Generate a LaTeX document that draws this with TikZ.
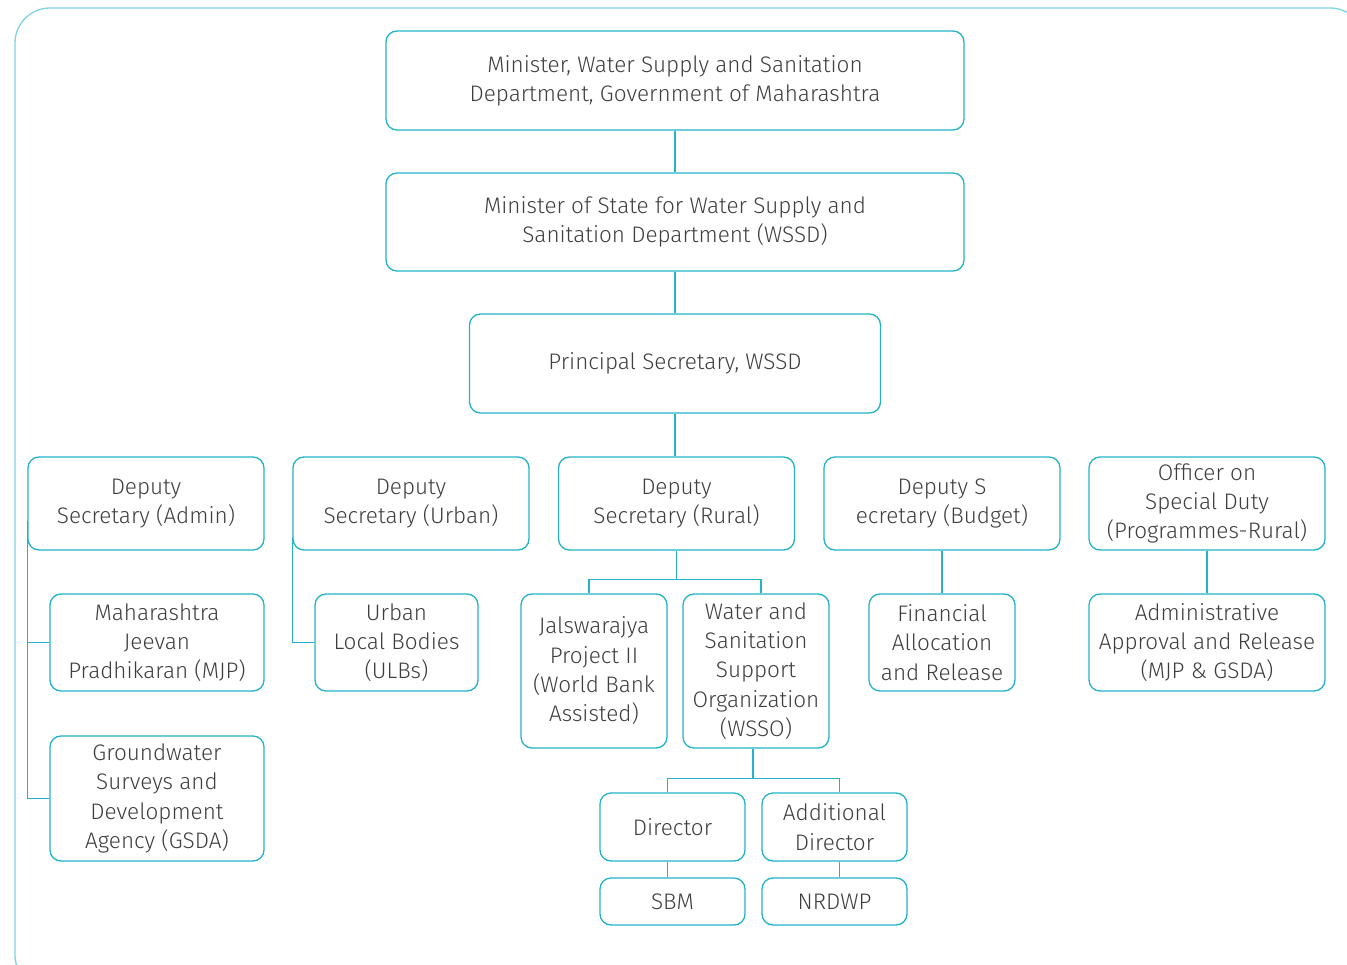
\documentclass[tikz,border=0pt]{standalone}
\usepackage{fontspec}
\setmainfont{Fira Sans Light}
\usepackage{xcolor}
\usetikzlibrary{calc}
\definecolor{boxline}{HTML}{22B2C9}
\definecolor{frameline}{HTML}{7DD3E3}
\definecolor{txtgray}{HTML}{3E3E3E}

\begin{document}
\begin{tikzpicture}[x=1pt,y=-1pt,
    box/.style={draw=boxline,line width=1.3pt,rounded corners=11pt,
      align=center,text=txtgray,inner sep=0pt,
      font=\fontsize{22.5}{29.3}\selectfont},
    link/.style={draw=boxline,line width=1.3pt}]

    \useasboundingbox (0,0) rectangle (1347,965);

    % outer frame
    \begin{scope}
      \clip (0,0) rectangle (1347,965);
      \draw[frameline,line width=1.3pt,rounded corners=35pt]
      (15,8) rectangle (1365,990);
    \end{scope}

    % top levels
    \node[box,minimum width=578pt,minimum height=99pt] (min) at (675,80.5)
    {Minister, Water Supply and Sanitation\\Department, Government of Maharashtra};
    \node[box,minimum width=578pt,minimum height=98pt] (mos) at (675,222)
    {Minister of State for Water Supply and\\Sanitation Department (WSSD)};
    \node[box,minimum width=411pt,minimum height=99pt] (psec) at (675,363.5)
    {Principal Secretary, WSSD};

    % deputy secretaries
    \def\rowy{503.5}
    \node[box,minimum width=236pt,minimum height=93pt] (admin) at (146,\rowy)
    {Deputy\\Secretary (Admin)};
    \node[box,minimum width=236pt,minimum height=93pt] (urban) at (411,\rowy)
    {Deputy\\Secretary (Urban)};
    \node[box,minimum width=236pt,minimum height=93pt] (rural) at (676.5,\rowy)
    {Deputy\\Secretary (Rural)};
    \node[box,minimum width=236pt,minimum height=93pt] (budget) at (942,\rowy)
    {Deputy S\\ecretary (Budget)};
    \node[box,minimum width=236pt,minimum height=93pt] (osd) at (1207,\rowy)
    {Officer on\\Special Duty\\(Programmes-Rural)};

    % third level
    \node[box,minimum width=214pt,minimum height=97pt] (mjp) at (157,642.5)
    {Maharashtra\\Jeevan\\Pradhikaran (MJP)};
    \node[box,minimum width=214pt,minimum height=125pt] (gsda) at (157,798.5)
    {Groundwater\\Surveys and\\Development\\Agency (GSDA)};
    \node[box,minimum width=163pt,minimum height=97pt] (ulb) at (396.5,642.5)
    {Urban\\Local Bodies\\(ULBs)};
    \node[box,minimum width=146pt,minimum height=154pt] (jal) at (594,671)
    {Jalswarajya\\Project II\\(World Bank\\Assisted)};
    \node[box,minimum width=146pt,minimum height=154pt] (wsso) at (756,671)
    {Water and\\Sanitation\\Support\\Organization\\(WSSO)};
    \node[box,minimum width=146pt,minimum height=97pt] (fin) at (942,642.5)
    {Financial\\Allocation\\and Release};
    \node[box,minimum width=236pt,minimum height=97pt] (aar) at (1207,642.5)
    {Administrative\\Approval and Release\\(MJP \& GSDA)};

    % directors
    \node[box,minimum width=145pt,minimum height=68pt] (dir) at (672.5,827)
    {Director};
    \node[box,minimum width=145pt,minimum height=68pt] (adir) at (834.5,827)
    {Additional\\Director};
    \node[box,minimum width=145pt,minimum height=47pt] (sbm) at (672.5,901.5)
    {SBM};
    \node[box,minimum width=145pt,minimum height=47pt] (nrdwp) at (834.5,901.5)
    {NRDWP};

    % connectors
    \draw[link] (min) -- (mos);
    \draw[link] (mos) -- (psec);
    \draw[link] (psec.south) -- (psec.south |- rural.north);

    \draw[link] ($(admin.south west)+(0,-30)$) |- (gsda.west);
    \draw[link] (mjp.west) -- (mjp.west -| admin.west);
    \draw[link] ($(urban.south west)+(0,-14)$) |- (ulb.west);

    \draw[link] (rural.south) -- ++(0,29) coordinate (rb);
    \draw[link] ($(jal.north)+(-5,0)$) |- (rb) -| ($(wsso.north)+(5,0)$);

    \draw[link] ($(wsso.south)+(-3,0)$) -- ++(0,30) coordinate (wb);
    \draw[link] ($(dir.north)+(-5,0)$) |- (wb) -| ($(adir.north)+(5,0)$);
    \draw[link] ($(sbm.north)+(-5,0)$) -- ($(dir.south)+(-5,0)$);
    \draw[link] ($(nrdwp.north)+(5,0)$) -- ($(adir.south)+(5,0)$);

    \draw[link] (budget) -- (fin);
    \draw[link] (osd) -- (aar);

\end{tikzpicture}
\end{document}
